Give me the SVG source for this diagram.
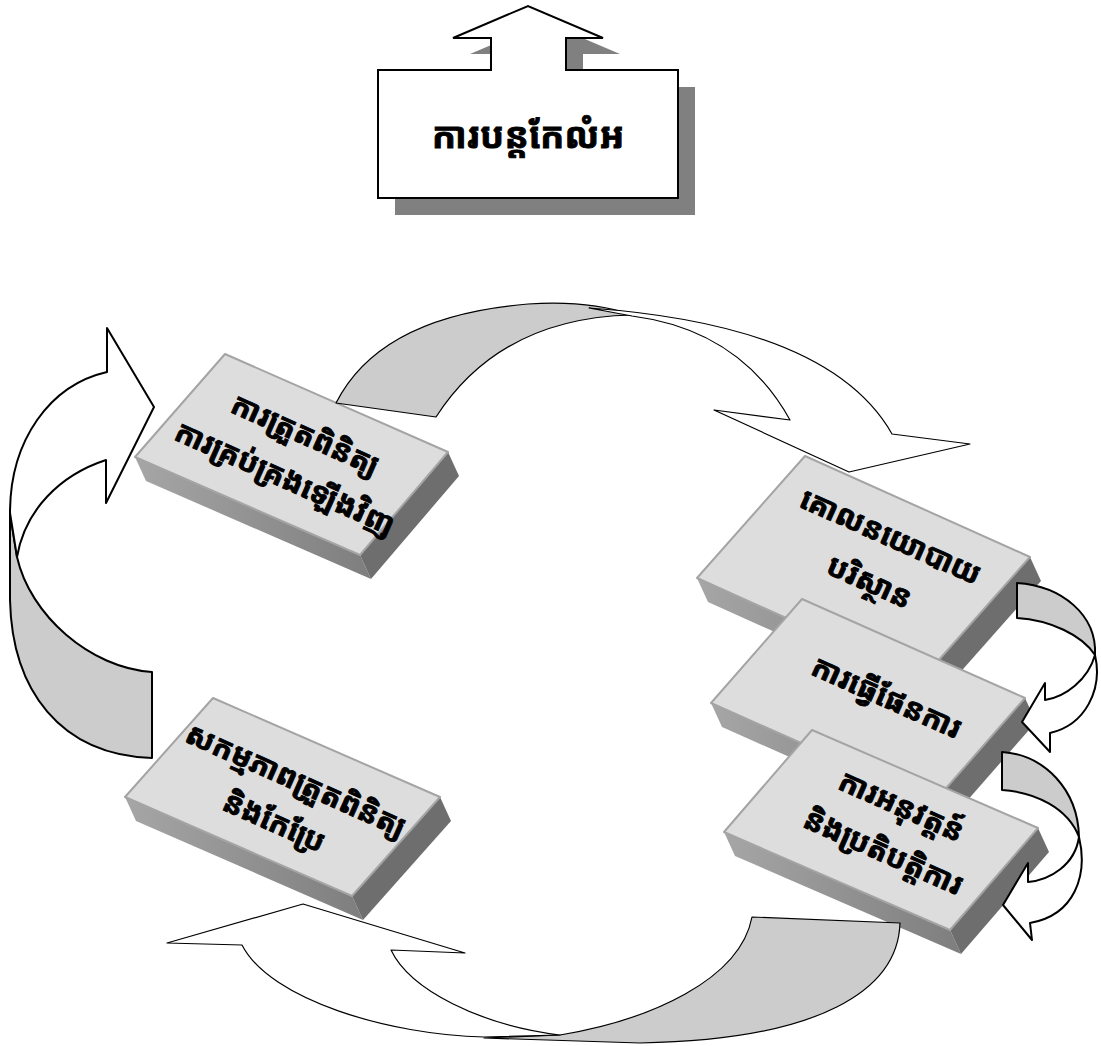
<svg xmlns="http://www.w3.org/2000/svg" width="1101" height="1046" viewBox="0 0 1101 1046">
<defs>
<linearGradient id="front" x1="0" y1="0" x2="1" y2="0">
<stop offset="0" stop-color="#a6a6a6"/>
<stop offset="1" stop-color="#7e7e7e"/>
</linearGradient>
<style>
.top{fill:#dddddd;stroke:#a4a4a4;stroke-width:2;stroke-linejoin:round}
.front{fill:url(#front)}
.side{fill:#6e6e6e}
.lbl{font-family:"Noto Sans Khmer","Khmer OS","Noto Sans","DejaVu Sans",sans-serif;font-weight:bold;font-size:30px;fill:#000;stroke:#000;stroke-width:0.9;text-anchor:middle}
.band{fill:#cccccc;stroke:#000;stroke-width:1.2;stroke-linejoin:round}
.head{fill:#ffffff;stroke:#000;stroke-width:1.2;stroke-linejoin:round}
.band2{fill:#cccccc;stroke:#000;stroke-width:2;stroke-linejoin:round}
.head2{fill:#ffffff;stroke:#000;stroke-width:2;stroke-linejoin:round}
</style>
</defs>
<rect width="1101" height="1046" fill="#ffffff"/>

<g id="title">
<path d="M395,87 L508,87 L508,54 L470,54 L545,22 L620,54 L583,54 L583,87 L695,87 L695,215 L395,215 Z" fill="#808080"/>
<path d="M378,70 L491,70 L491,38 L453,38 L528,6 L603,38 L566,38 L566,70 L678,70 L678,198 L378,198 Z" fill="#ffffff" stroke="#000" stroke-width="2" stroke-linejoin="miter"/>
<text x="528" y="148" class="lbl" style="font-size:36px">ការបន្តកែលំអ</text>
</g>

<g id="box-review">
<polygon class="front" points="135,457 360,555 371,579 146,481"/>
<polygon class="side" points="360,555 448,452 459,476 371,579"/>
<polygon class="top" points="225,354 448,452 360,555 135,457"/>
<text class="lbl" transform="translate(292,455) rotate(24)"><tspan x="4" y="-14">ការត្រួតពិនិត្យ</tspan><tspan x="3" y="34">ការគ្រប់គ្រងឡើងវិញ</tspan></text>
</g>

<g id="box-policy">
<polygon class="front" points="697,578 922,679 933,703 708,602"/>
<polygon class="side" points="922,679 1030,557 1041,581 933,703"/>
<polygon class="top" points="805,456 1030,557 922,679 697,578"/>
<text class="lbl" transform="translate(863,567) rotate(24)"><tspan x="13" y="-29">គោលនយោបាយ</tspan><tspan x="12" y="21">បរិស្ថាន</tspan></text>
</g>

<g id="box-planning">
<polygon class="front" points="711,703 934,802 945,826 722,727"/>
<polygon class="side" points="934,802 1025,698 1036,722 945,826"/>
<polygon class="top" points="802,599 1025,698 934,802 711,703"/>
<text class="lbl" transform="translate(868,700) rotate(24)"><tspan x="16" y="0">ការធ្វើផែនការ</tspan></text>
</g>

<g id="box-implementation">
<polygon class="front" points="724,832 950,930 961,954 735,856"/>
<polygon class="side" points="950,930 1038,828 1049,852 961,954"/>
<polygon class="top" points="812,730 1038,828 950,930 724,832"/>
<text class="lbl" transform="translate(881,830) rotate(24)"><tspan x="9" y="-20">ការអនុវត្តន៍</tspan><tspan x="11" y="29">និងប្រតិបត្តិការ</tspan></text>
</g>

<g id="box-checking">
<polygon class="front" points="125,797 352,896 363,920 136,821"/>
<polygon class="side" points="352,896 440,797 451,821 363,920"/>
<polygon class="top" points="213,698 440,797 352,896 125,797"/>
<text class="lbl" transform="translate(282,797) rotate(24)"><tspan x="6" y="-11">សកម្មភាពត្រួតពិនិត្យ</tspan><tspan x="3" y="36">និងកែប្រែ</tspan></text>
</g>

<g id="connectors">
<g id="arrow-top">
<path class="band" d="M336,403 Q380,316 528,304 Q590,300 632,315 Q500,318 436,417 Z"/>
<path class="head" d="M589,308 Q830,325 892,434 L970,444 L849,472 L714,410 L790,420 Q740,330 632,316 Z"/>
</g>
<g id="arrow-bottom">
<path class="band" d="M752,917 L900,923 C898,990 820,1040 640,1043 L484,1038 L560,1035 C650,1020 740,980 752,917 Z"/>
<path class="head" d="M484,1037 C390,1035 270,1000 242,945 L167,943 L303,904 L465,953 L391,950 C410,990 480,1025 560,1035 Z"/>
</g>
<g id="arrow-left">
<path class="band2" d="M152,672 L152,758 C60,755 12,690 10,600 L10,513 L17,557 C30,615 90,668 152,672 Z"/>
<path class="head2" d="M10,513 C10,440 50,385 107,372 L107,328 L154,407 L106,503 L106,460 C60,475 25,510 17,557 Z"/>
</g>
<g id="arrow-right-1">
<path class="band2" d="M1017,583 L1017,618 C1050,620 1082,635 1095,655 C1097,615 1062,586 1017,583 Z"/>
<path class="head2" d="M1095,655 C1103,690 1085,725 1050,733 L1050,752 L1022,722 L1045,683 L1045,700 C1065,697 1088,680 1095,655 Z"/>
</g>
<g id="arrow-right-2">
<path class="band2" d="M1002,752 L1002,790 C1035,792 1068,808 1079,837 C1078,790 1045,755 1002,752 Z"/>
<path class="head2" d="M1079,837 C1088,875 1075,915 1030,923 L1032,940 L1003,905 L1028,863 L1028,882 C1050,880 1075,865 1079,837 Z"/>
</g>
</g>
</svg>
